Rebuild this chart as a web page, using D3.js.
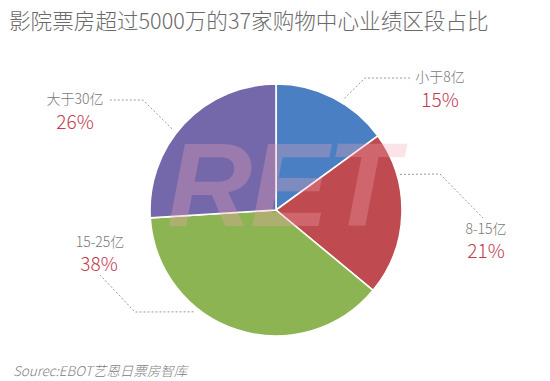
<!DOCTYPE html>
<html><head><meta charset="utf-8">
<script src="https://cdn.jsdelivr.net/npm/d3@7/dist/d3.min.js"></script>
<style>
body{margin:0;background:#fff;}
svg{display:block;}
</style></head>
<body><svg id="c" width="550" height="381"></svg>
<script>
const categories = ["小于8亿", "8-15亿", "15-25亿", "大于30亿"];
const values = [15, 21, 38, 26];
const colors = ["#4a80c3", "#bf4a50", "#8db453", "#7468aa"];
const title = "影院票房超过5000万的37家购物中心业绩区段占比";
const source = "Sourec:EBOT艺恩日票房智库";

const svg = d3.select("#c");
const cx = 276, cy = 210, R = 126;

svg.append("text").attr("x", 9).attr("y", 29)
  .attr("font-family", "'Noto Sans CJK SC', sans-serif").attr("font-size", 21.6)
  .attr("font-weight", 300)
  .attr("fill", "#6a6a6a").text(title);

const pie = d3.pie().sort(null).value(d => d)(values);
const arc = d3.arc().innerRadius(0).outerRadius(R);
const g = svg.append("g").attr("transform", `translate(${cx},${cy})`);
g.selectAll("path").data(pie).join("path")
  .attr("d", arc).attr("fill", (d, i) => colors[i])
  .attr("stroke", "#fff").attr("stroke-width", 1.6);

// watermark
svg.append("text").attr("x", 282).attr("y", 226).attr("text-anchor", "middle")
  .attr("font-family", "'Liberation Sans', Arial, sans-serif").attr("font-weight", "bold")
  .attr("font-style", "italic").attr("font-size", 118).attr("letter-spacing", -2)
  .attr("fill", "#f4a6b4").attr("opacity", 0.3).text("RET");

// label layout: [elbow, end] in pixels; start from slice edge
const layout = [
  {a: 31.5, r: 131, elbow: [365, 78], end: [410, 78], lx: 440, ly: 82, px: 440, py: 107},
  {a: 74, r: 129, elbow: [440, 174], end: [483, 218], lx: 486, ly: 234, px: 486, py: 258},
  {a: 219, r: 131, elbow: [135, 312], end: [100, 275], lx: 100, ly: 247, px: 99, py: 271},
  {a: 308, r: 132, elbow: [143, 100], end: [110, 100], lx: 75, ly: 104, px: 75, py: 129}
];
layout.forEach((L, i) => {
  const t = L.a * Math.PI / 180;
  const sx = cx + L.r * Math.sin(t), sy = cy - L.r * Math.cos(t);
  svg.append("polyline")
    .attr("points", `${sx},${sy} ${L.elbow[0]},${L.elbow[1]} ${L.end[0]},${L.end[1]}`)
    .attr("fill", "none").attr("stroke", "#9a9a9a").attr("stroke-width", 1)
    .attr("stroke-dasharray", "2,2");
  svg.append("text").attr("x", L.lx).attr("y", L.ly).attr("text-anchor", "middle")
    .attr("font-family", "'Noto Sans CJK SC', sans-serif").attr("font-size", 14)
    .attr("font-weight", 300)
    .attr("fill", "#777").text(categories[i]);
  svg.append("text").attr("x", L.px).attr("y", L.py).attr("text-anchor", "middle")
    .attr("font-family", "'Noto Sans CJK SC', sans-serif").attr("font-size", 19)
    .attr("font-weight", 300)
    .attr("fill", "#c23c50").text(values[i] + "%");
});

svg.append("text").attr("x", 13).attr("y", 376)
  .attr("font-family", "'Noto Sans CJK SC', sans-serif").attr("font-size", 13.5)
  .attr("font-weight", 300)
  .attr("font-style", "italic").attr("fill", "#808080").text(source);
</script></body></html>
